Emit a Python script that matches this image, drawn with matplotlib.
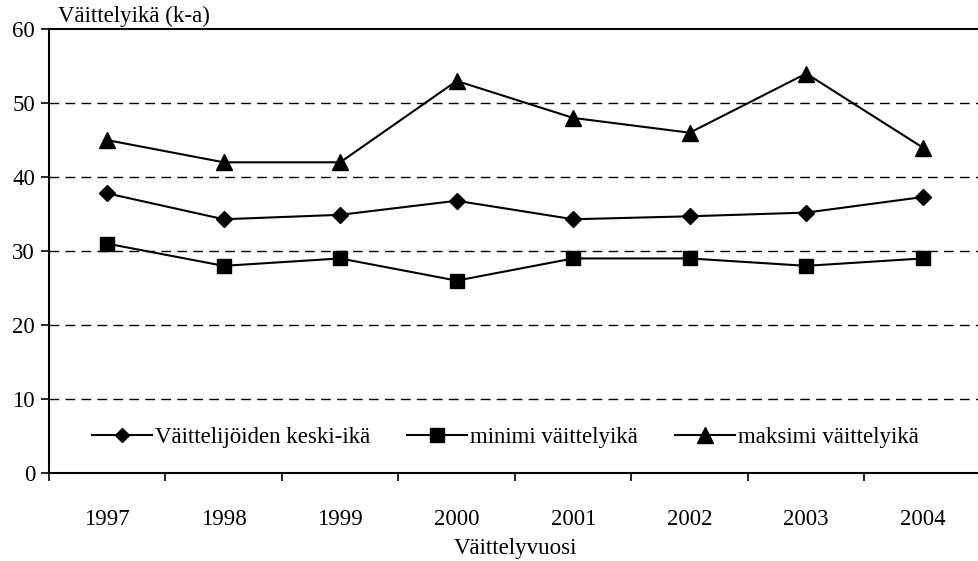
import matplotlib
matplotlib.use("Agg")
import matplotlib.pyplot as plt
import numpy as np

YEARS = ["1997", "1998", "1999", "2000", "2001", "2002", "2003", "2004"]
MEAN_AGE = [37.8, 34.3, 34.9, 36.8, 34.3, 34.7, 35.2, 37.3]
MIN_AGE = [31, 28, 29, 26, 29, 29, 28, 29]
MAX_AGE = [45, 42, 42, 53, 48, 46, 54, 44]

plt.rcParams.update({
    "font.family": ["Liberation Serif", "DejaVu Serif"],
    "font.size": 16.5,
})

fig = plt.figure(figsize=(9.79, 5.61), dpi=100)
ax = fig.add_axes([0.050, 0.157, 0.952, 0.791])

x = np.arange(len(YEARS))
ax.plot(x, MEAN_AGE, color="black", lw=1.5, marker="D", ms=8,
        label="Väittelijöiden keski-ikä")
ax.plot(x, MIN_AGE, color="black", lw=1.5, marker="s", ms=10,
        label="minimi väittelyikä")
ax.plot(x, MAX_AGE, color="black", lw=1.5, marker="^", ms=12,
        label="maksimi väittelyikä")

ax.set_xlim(-0.5, len(YEARS) - 0.5)
ax.set_ylim(0, 60)
ax.set_yticks(range(0, 61, 10))
for yv in range(10, 60, 10):
    ax.axhline(yv, color="black", lw=1.0, ls=(0, (7, 4.5)), zorder=0)

ax.set_xticks(x)
ax.set_xticklabels(YEARS)
ax.tick_params(axis="x", which="major", length=0, pad=26)
ax.set_xticks(np.arange(-0.5, len(YEARS), 1.0), minor=True)
ax.tick_params(axis="x", which="minor", length=6, width=1.2, direction="out")
ax.tick_params(axis="y", length=6, width=1.2, direction="out", pad=4)

for s in ["left", "bottom", "top"]:
    ax.spines[s].set_linewidth(1.5)
ax.spines["right"].set_visible(False)

ax.text(0.01, 1.005, "Väittelyikä (k-a)", transform=ax.transAxes,
        ha="left", va="bottom")
ax.set_xlabel("Väittelyvuosi", labelpad=6)

ax.legend(loc="center", bbox_to_anchor=(0.49, 0.08), ncol=3, frameon=False,
          handlelength=2.6, handletextpad=0.15, columnspacing=1.6,
          markerscale=0.95)

fig.savefig("out.png", dpi=100)
